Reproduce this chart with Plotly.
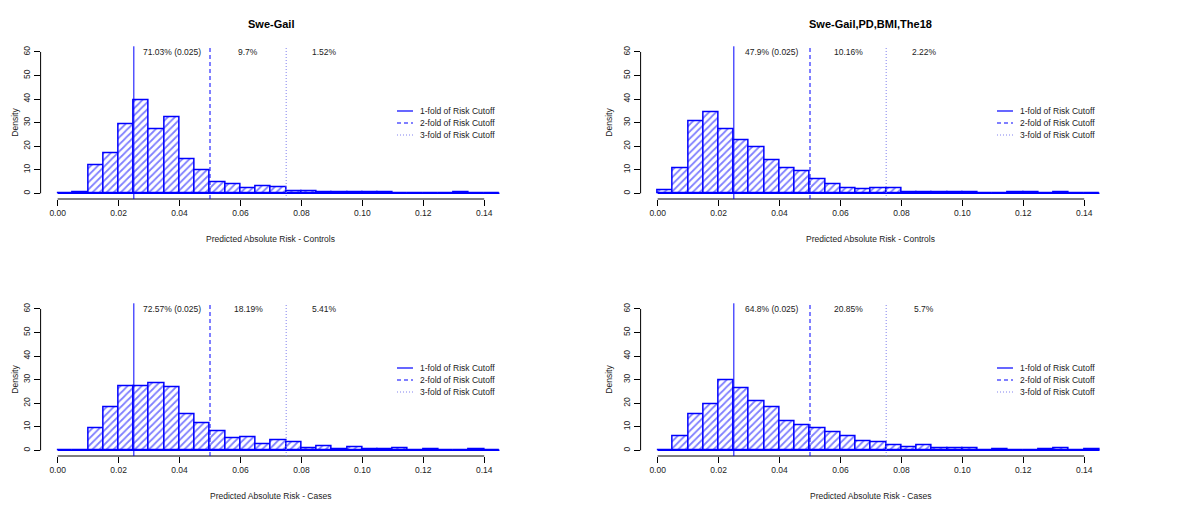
import plotly.graph_objects as go

# histogram bins (left edges), width 0.005
bin_starts = [0.000, 0.005, 0.010, 0.015, 0.020, 0.025, 0.030, 0.035, 0.040, 0.045,
              0.050, 0.055, 0.060, 0.065, 0.070, 0.075, 0.080, 0.085, 0.090, 0.095,
              0.100, 0.105, 0.110, 0.115, 0.120, 0.125, 0.130, 0.135, 0.140]
bin_width = 0.005

dens_gail_controls = [0, 0.3, 11.8, 16.9, 29.1, 39.4, 27.1, 32.3, 14.3, 9.9,
                      4.7, 3.9, 2.2, 3.0, 2.4, 0.85, 0.7, 0.3, 0.3, 0.3,
                      0.3, 0.3, 0.1, 0.1, 0.1, 0.1, 0.4, 0.1, 0.05]
dens_full_controls = [1.3, 10.7, 30.6, 34.4, 27.2, 22.6, 19.5, 13.9, 10.6, 9.2,
                      5.9, 3.8, 2.3, 1.7, 2.1, 2.1, 0.5, 0.3, 0.3, 0.3,
                      0.3, 0.05, 0.05, 0.3, 0.3, 0.05, 0.3, 0.05, 0.05]
dens_gail_cases = [0, 0.2, 9.2, 18.3, 27.2, 27.2, 28.3, 26.8, 15.1, 11.5,
                   8.1, 5.2, 5.5, 2.5, 4.2, 3.4, 1.0, 1.8, 0.6, 1.4,
                   0.3, 0.6, 0.9, 0.1, 0.4, 0.2, 0.1, 0.3, 0.1]
dens_full_cases = [0, 5.9, 15.1, 19.5, 29.7, 26.2, 20.7, 18.1, 12.3, 10.8,
                   9.3, 7.6, 5.9, 3.7, 3.4, 2.0, 1.3, 2.0, 0.7, 0.7,
                   0.85, 0.1, 0.25, 0.1, 0.1, 0.55, 0.7, 0.1, 0.4]

cutoffs = [0.025, 0.05, 0.075]
cutoff_dash = ["solid", "4px,3px", "1px,2px"]
cutoff_color = ["#0000ff", "#0000ff", "#8080ee"]
legend_labels = ["1-fold of Risk Cutoff", "2-fold of Risk Cutoff", "3-fold of Risk Cutoff"]

pct_gail_controls = ["71.03% (0.025)", "9.7%", "1.52%"]
pct_full_controls = ["47.9% (0.025)", "10.16%", "2.22%"]
pct_gail_cases = ["72.57% (0.025)", "18.19%", "5.41%"]
pct_full_cases = ["64.8% (0.025)", "20.85%", "5.7%"]

x_ticks = [0.00, 0.02, 0.04, 0.06, 0.08, 0.10, 0.12, 0.14]
y_ticks = [0, 10, 20, 30, 40, 50, 60]

# the page body has an 8px margin, so shift everything up/left by that
OFF = 8
W, H = 1200 - OFF, 514 - OFF
PW, PH = 460.7, 152.7
FONT = "Liberation Sans"
BLUE = "#0000ff"
TXT = "#222"

panels = [
    (dens_gail_controls, "Swe-Gail", "Predicted Absolute Risk - Controls", pct_gail_controls, 40.6, 46.3),
    (dens_full_controls, "Swe-Gail,PD,BMI,The18", "Predicted Absolute Risk - Controls", pct_full_controls, 640.6, 46.3),
    (dens_gail_cases, "", "Predicted Absolute Risk - Cases", pct_gail_cases, 40.6, 303.3),
    (dens_full_cases, "", "Predicted Absolute Risk - Cases", pct_full_cases, 640.6, 303.3),
]

fig = go.Figure()
shapes = []
annotations = []

for i, (dens, title, xlab, pcts, left, top) in enumerate(panels):
    n = "" if i == 0 else str(i + 1)
    xr, yr = "x" + n, "y" + n
    left -= OFF
    top -= OFF

    # zero-height bins still show as a baseline in R's hist
    fig.add_trace(go.Scatter(x=[bin_starts[0], bin_starts[-1] + bin_width], y=[0, 0],
                             mode="lines", line=dict(color=BLUE, width=1.5),
                             xaxis=xr, yaxis=yr, showlegend=False, hoverinfo="skip"))
    fig.add_trace(go.Bar(x=bin_starts, y=dens, width=bin_width, offset=0,
                         marker=dict(color="white",
                                     line=dict(color=BLUE, width=1.5),
                                     pattern=dict(shape="/", fgcolor=BLUE, bgcolor="white",
                                                  size=5, solidity=0.35)),
                         xaxis=xr, yaxis=yr, showlegend=False))

    fig.update_layout({
        "xaxis" + n: dict(domain=[left / W, (left + PW) / W], range=[-0.0056, 0.1456],
                          anchor=yr, tickvals=x_ticks, ticktext=["%.2f" % t for t in x_ticks],
                          ticks="outside", ticklen=6, tickcolor="black",
                          showgrid=False, zeroline=False, showline=False,
                          tickfont=dict(size=8.5, color=TXT)),
        "yaxis" + n: dict(domain=[1 - (top + PH) / H, 1 - top / H], range=[-2.4, 62.4],
                          anchor=xr, tickvals=y_ticks, tickangle=-90,
                          ticks="outside", ticklen=6, tickcolor="black",
                          showgrid=False, zeroline=False, showline=False,
                          tickfont=dict(size=8.5, color=TXT)),
    })

    # R-style axis lines spanning first to last tick
    shapes.append(dict(type="line", xref=xr, yref=yr + " domain", x0=x_ticks[0], x1=x_ticks[-1],
                       y0=0, y1=0, line=dict(color="black", width=1)))
    shapes.append(dict(type="line", xref=xr + " domain", yref=yr, x0=0, x1=0,
                       y0=y_ticks[0], y1=y_ticks[-1], line=dict(color="black", width=1)))

    for c, d, col, p in zip(cutoffs, cutoff_dash, cutoff_color, pcts):
        shapes.append(dict(type="line", xref=xr, yref=yr + " domain", x0=c, x1=c, y0=0, y1=1,
                           layer="above", line=dict(color=col, width=1, dash=d)))
        annotations.append(dict(x=c + 0.0125, y=60, xref=xr, yref=yr, text=p, showarrow=False,
                                xanchor="center", yanchor="middle",
                                font=dict(size=8.5, color=TXT)))

    # legend
    for k, (d, col, lab) in enumerate(zip(cutoff_dash, cutoff_color, legend_labels)):
        ly = [0.5763, 0.4977, 0.4191][k]
        shapes.append(dict(type="line", xref=xr + " domain", yref=yr + " domain",
                           x0=0.7736, x1=0.8083, y0=ly, y1=ly,
                           line=dict(color=col, width=1.2, dash=d)))
        annotations.append(dict(x=0.8192, y=ly, xref=xr + " domain", yref=yr + " domain",
                                text=lab, showarrow=False, xanchor="left", yanchor="middle",
                                font=dict(size=8.5, color=TXT)))

    if title:
        annotations.append(dict(x=0.5, y=1 - (24 - OFF) / H, xref=xr + " domain", yref="paper",
                                text="<b>" + title + "</b>", showarrow=False,
                                xanchor="center", yanchor="middle",
                                font=dict(size=11, color="black")))
    annotations.append(dict(x=0.5, y=1 - (top + 192.4) / H, xref=xr + " domain", yref="paper",
                            text=xlab, showarrow=False, xanchor="center", yanchor="middle",
                            font=dict(size=8.5, color=TXT)))
    annotations.append(dict(x=max(left - 38.6, 0) / W, y=0.5, xref="paper", yref=yr + " domain",
                            text="Density", textangle=-90, showarrow=False,
                            xanchor="left", yanchor="middle",
                            font=dict(size=8.5, color=TXT)))

fig.update_layout(width=W, height=H, margin=dict(l=0, r=0, t=0, b=0),
                  paper_bgcolor="white", plot_bgcolor="white", bargap=0,
                  font=dict(family=FONT), shapes=shapes, annotations=annotations,
                  showlegend=False)

fig.write_html("out.html")
